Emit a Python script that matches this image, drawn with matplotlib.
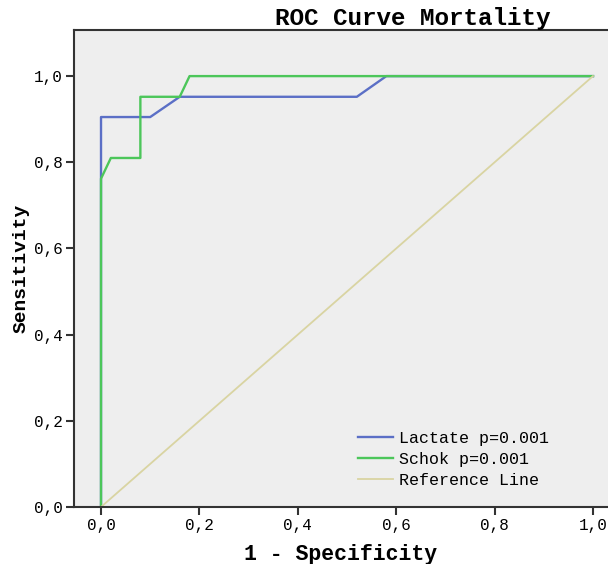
import matplotlib
matplotlib.use('Agg')
import matplotlib.pyplot as plt
from matplotlib.ticker import FuncFormatter

# ROC points
lactate_fpr = [0.0, 0.0, 0.10, 0.16, 0.52, 0.58, 1.0]
lactate_tpr = [0.0, 0.905, 0.905, 0.952, 0.952, 1.0, 1.0]

schok_fpr = [0.0, 0.0, 0.02, 0.08, 0.08, 0.16, 0.18, 1.0]
schok_tpr = [0.0, 0.762, 0.81, 0.81, 0.952, 0.952, 1.0, 1.0]

ref_x = [0.0, 1.0]
ref_y = [0.0, 1.0]

labels = ['Lactate p=0.001', 'Schok p=0.001', 'Reference Line']
ticks = [0.0, 0.2, 0.4, 0.6, 0.8, 1.0]

mono = 'Liberation Mono'
W, H = 608, 564

fig = plt.figure(figsize=(W / 100, H / 100), dpi=100)
ax = fig.add_axes([74 / W, 57 / H, 1 - 74 / W, 477 / H])
ax.set_facecolor('#eeeeee')

ax.plot(lactate_fpr, lactate_tpr, color='#5b6fc6', lw=1.7, label=labels[0])
ax.plot(schok_fpr, schok_tpr, color='#4cc65a', lw=1.7, label=labels[1])
ax.plot(ref_x, ref_y, color='#d9d4a2', lw=1.3, label=labels[2])

ax.set_xlim(-0.0549, 1.0305)
ax.set_ylim(0, 1.107)
ax.set_xticks(ticks)
ax.set_yticks(ticks)
fmt = FuncFormatter(lambda v, p: ('%.1f' % v).replace('.', ','))
ax.xaxis.set_major_formatter(fmt)
ax.yaxis.set_major_formatter(fmt)
ax.tick_params(direction='out', length=6, width=1.5, color='#333333',
               labelsize=11.5, pad=2)
for lab in ax.get_xticklabels() + ax.get_yticklabels():
    lab.set_family(mono)

for s in ['left', 'bottom', 'top']:
    ax.spines[s].set_color('#333333')
    ax.spines[s].set_linewidth(1.5)
ax.spines['right'].set_visible(False)

ax.set_xlabel('1 - Specificity', family=mono, weight='bold', fontsize=15.5, labelpad=8)
ax.set_ylabel('Sensitivity', family=mono, weight='bold', fontsize=14, labelpad=3)

fig.text(413 / W, 1 - 19 / H, 'ROC Curve Mortality', family=mono, weight='bold',
         fontsize=17.5, ha='center', va='center')

leg = ax.legend(loc='lower left', bbox_to_anchor=(0.517, 0.022), frameon=False,
                prop={'family': mono, 'size': 12}, handlelength=2.1,
                labelspacing=0.38, handletextpad=0.36, borderpad=0)

fig.savefig('out.png', dpi=100)
